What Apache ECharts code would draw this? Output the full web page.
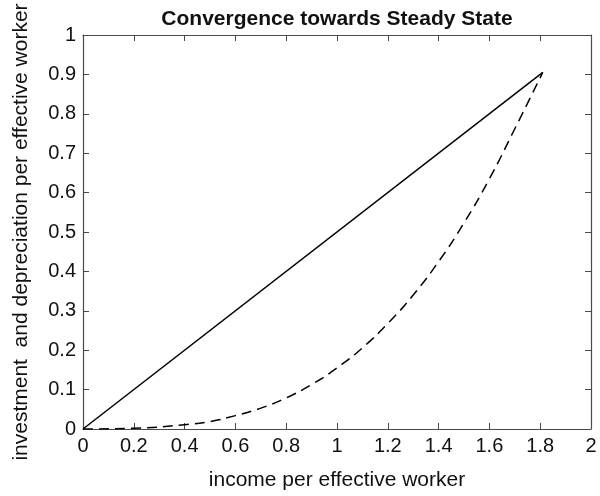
<!DOCTYPE html>
<html>
<head>
<meta charset="utf-8">
<script src="https://cdn.jsdelivr.net/npm/echarts@6/dist/echarts.min.js"></script>
<style>
    html, body { margin: 0; padding: 0; background: #fff; }
    #chart { width: 600px; height: 496px; }
</style>
</head>
<body>
<div id="chart"></div>
<script>
// depreciation line (solid)
const depK = [0, 1.81];
const depY = [0, 0.905];

// investment curve (dashed)
const invK = [0, 0.2, 0.4, 0.5, 0.6, 0.7, 0.8, 0.9, 1.0, 1.1, 1.2, 1.3, 1.4, 1.5, 1.6, 1.7, 1.81];
const invY = [0, 0.002, 0.011, 0.019, 0.034, 0.053, 0.079, 0.113, 0.155, 0.206, 0.268, 0.34, 0.425, 0.523, 0.635, 0.762, 0.905];

const xTicks = { min: 0, max: 2, interval: 0.2 };
const yTicks = { min: 0, max: 1, interval: 0.1 };

const font = "Liberation Sans, Arial, sans-serif";
const axisColor = "#4a4a4a";

function pairs(xs, ys) {
    return xs.map((x, i) => [x, ys[i]]);
}

function boxAxis(ticks, position, labels, extra) {
    return Object.assign({
        type: "value",
        position: position,
        min: ticks.min,
        max: ticks.max,
        interval: ticks.interval,
        axisLine: { show: true, onZero: false, lineStyle: { color: axisColor, width: 1.2 } },
        axisTick: { show: true, inside: true, length: 6, lineStyle: { color: axisColor } },
        axisLabel: {
            show: labels,
            color: "#111",
            fontFamily: font,
            fontSize: 20,
            margin: 7
        },
        splitLine: { show: false }
    }, extra || {});
}

let chart = echarts.init(document.getElementById("chart"));

chart.setOption({
    animation: false,
    title: {
        text: "Convergence towards Steady State",
        left: 337,
        top: 9,
        padding: 0,
        textAlign: "center",
        textStyle: { fontFamily: font, fontSize: 21, fontWeight: "bold", color: "#111" }
    },
    grid: { left: 83, right: 9, top: 35, bottom: 62 },
    xAxis: [
        boxAxis(xTicks, "bottom", true, {
            name: "income per effective worker",
            nameLocation: "middle",
            nameGap: 41,
            nameTextStyle: { fontFamily: font, fontSize: 21, color: "#111" }
        }),
        boxAxis(xTicks, "top", false)
    ],
    yAxis: [
        boxAxis(yTicks, "left", true, {
            name: "investment  and depreciation per effective worker",
            nameLocation: "middle",
            nameGap: 51,
            nameRotate: 90,
            nameTextStyle: { fontFamily: font, fontSize: 21, color: "#111" }
        }),
        boxAxis(yTicks, "right", false)
    ],
    series: [
        {
            name: "depreciation",
            type: "line",
            data: pairs(depK, depY),
            showSymbol: false,
            lineStyle: { color: "#000", width: 1.5 }
        },
        {
            name: "investment",
            type: "line",
            data: pairs(invK, invY),
            smooth: true,
            showSymbol: false,
            lineStyle: { color: "#000", width: 1.5, type: [10, 6] }
        }
    ]
});
</script>
</body>
</html>
